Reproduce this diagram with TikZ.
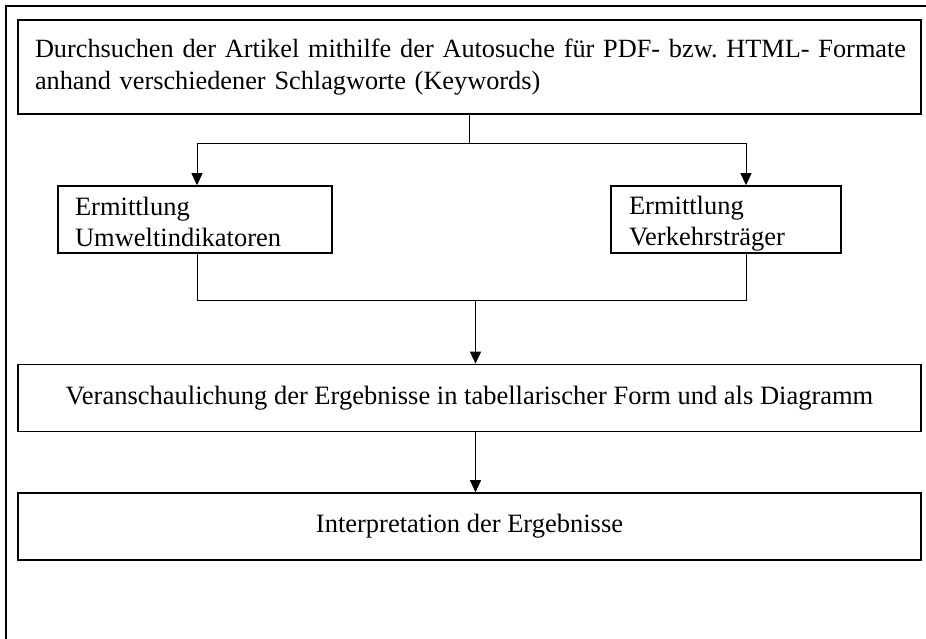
\documentclass[tikz,border=0pt]{standalone}
\usepackage{fontspec}
\setmainfont{Liberation Serif}
\usetikzlibrary{arrows.meta}
\frenchspacing

\tikzset{
	box/.style={draw, line width=1.6pt, inner sep=0pt, minimum height=67pt},
	small/.style={box, align=left, font=\fontsize{26.5}{31}\selectfont},
	link/.style={line width=0.8pt},
	arr/.style={link, -{Triangle[width=11pt,length=12pt]}}
}
% top and bottom rules that keep both small boxes set alike
\newcommand{\toprl}{\rule{0pt}{26pt}}
\newcommand{\botrl}{\rule[-4pt]{0pt}{4pt}}

\begin{document}
\begin{tikzpicture}[x=1pt,y=-1pt,font=\fontsize{26.5}{32}\selectfont]
		\useasboundingbox (0,0) rectangle (926,639);
		\draw[line width=1.6pt] (6,639) -- (6,6) -- (926,6);

		\node[box, minimum width=903pt, minimum height=94pt, text width=869pt, align=left, font=\fontsize{26.3}{32}\selectfont] (search) at (469.5,67)
			{\mbox{Durchsuchen der Artikel mithilfe der Autosuche für PDF- bzw. HTML- Formate}\\anhand verschiedener Schlagworte (Keywords)};
		\node[small, minimum width=274pt, text width=240pt] (umwelt) at (195,219.5)
			{\toprl Ermittlung\\Umweltindikatoren\botrl};
		\node[small, minimum width=230pt, text width=194pt] (verkehr) at (726,219.5)
			{\toprl Ermittlung\\Verkehrsträger\botrl};
		\node[box, minimum width=903pt] (visual) at (469.5,398)
			{Veranschaulichung der Ergebnisse in tabellarischer Form und als Diagramm};
		\node[box, minimum width=903pt] (interp) at (469.5,526.5)
			{Interpretation der Ergebnisse};

		% split below the search box
		\coordinate (split) at ([yshift=-29pt]search.south);
		\draw[link] (search.south) -- (split);
		\draw[arr] (split) -| ([xshift=2pt]umwelt.north);
		\draw[arr] (split) -| ([xshift=20pt]verkehr.north);

		% merge of both results
		\coordinate (merge) at ([xshift=6pt,yshift=63pt]visual.north);
		\draw[link] ([xshift=2pt]umwelt.south) |- (merge) -| ([xshift=20pt]verkehr.south);
		\draw[arr] (merge) -- ([xshift=6pt]visual.north);
		\draw[arr] ([xshift=6pt]visual.south) -- ([xshift=6pt]interp.north);
\end{tikzpicture}
\end{document}
